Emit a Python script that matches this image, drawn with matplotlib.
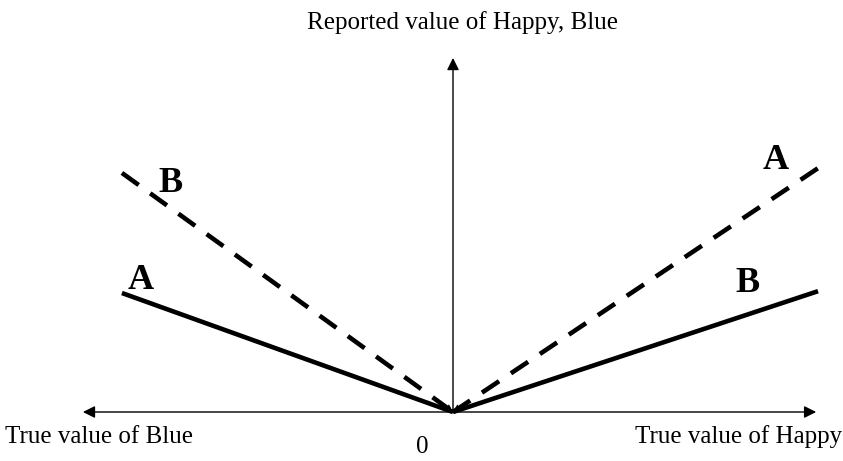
import matplotlib.pyplot as plt

# Values (true value on x, reported value on y); origin at 0
blue_x = [-0.907, 0.0]        # true value of Blue (left side)
blue_A = [0.326, 0.0]         # solid line A
blue_B = [0.655, 0.0]         # dashed line B
happy_x = [0.0, 1.0]          # true value of Happy (right side)
happy_A = [0.0, 0.668]        # dashed line A
happy_B = [0.0, 0.331]        # solid line B

plt.rcParams["font.family"] = ["Liberation Serif", "DejaVu Serif"]

fig = plt.figure(figsize=(8.43, 4.61), dpi=100)
ax = fig.add_axes([0, 0, 1, 1])
ax.set_xlim(-453 / 365, (843 - 453) / 365)
ax.set_ylim(-49 / 365, 412 / 365)
ax.axis("off")

# axes arrows
arrow = dict(arrowstyle="-|>", lw=1.0, color="black", mutation_scale=18, shrinkA=0, shrinkB=0)
ax.annotate("", xy=(-1.014, 0), xytext=(0, 0), arrowprops=arrow)
ax.annotate("", xy=(0.995, 0), xytext=(0, 0), arrowprops=arrow)
ax.annotate("", xy=(0, 0.97), xytext=(0, 0), arrowprops=arrow)

# lines
dash = (0, (4.5, 3.1))
ax.plot(blue_x, blue_A, color="black", lw=3.3, solid_capstyle="butt")
ax.plot(blue_x, blue_B, color="black", lw=3.3, linestyle=dash, dash_capstyle="butt")
ax.plot(happy_x, happy_B, color="black", lw=3.3, solid_capstyle="butt")
ax.plot(happy_x, happy_A, color="black", lw=3.3, linestyle=dash, dash_capstyle="butt")

# small heads of the dashed lines at the origin
head = dict(arrowstyle="-|>", lw=0, color="black", mutation_scale=14, shrinkA=0, shrinkB=0)
t = 0.06
ax.annotate("", xy=(0, 0), xytext=(blue_x[0] * t, blue_B[0] * t), arrowprops=head)
ax.annotate("", xy=(0, 0), xytext=(happy_x[1] * t, happy_A[1] * t), arrowprops=head)

# labels of the lines
lab = dict(fontsize=26, fontweight="bold", ha="center", va="center")
ax.text(-0.773, 0.625, "B", **lab)
ax.text(-0.856, 0.359, "A", **lab)
ax.text(0.885, 0.690, "A", **lab)
ax.text(0.808, 0.351, "B", **lab)

# axis titles
ax.text(0.027, 1.068, "Reported value of Happy, Blue", fontsize=18, ha="center", va="center")
ax.text(-1.227, -0.085, "True value of Blue", fontsize=18, ha="left", va="baseline")
ax.text(1.066, -0.085, "True value of Happy", fontsize=18, ha="right", va="baseline")
ax.text(-0.085, -0.097, "0", fontsize=18, ha="center", va="center")

fig.savefig("out.png", dpi=100)
